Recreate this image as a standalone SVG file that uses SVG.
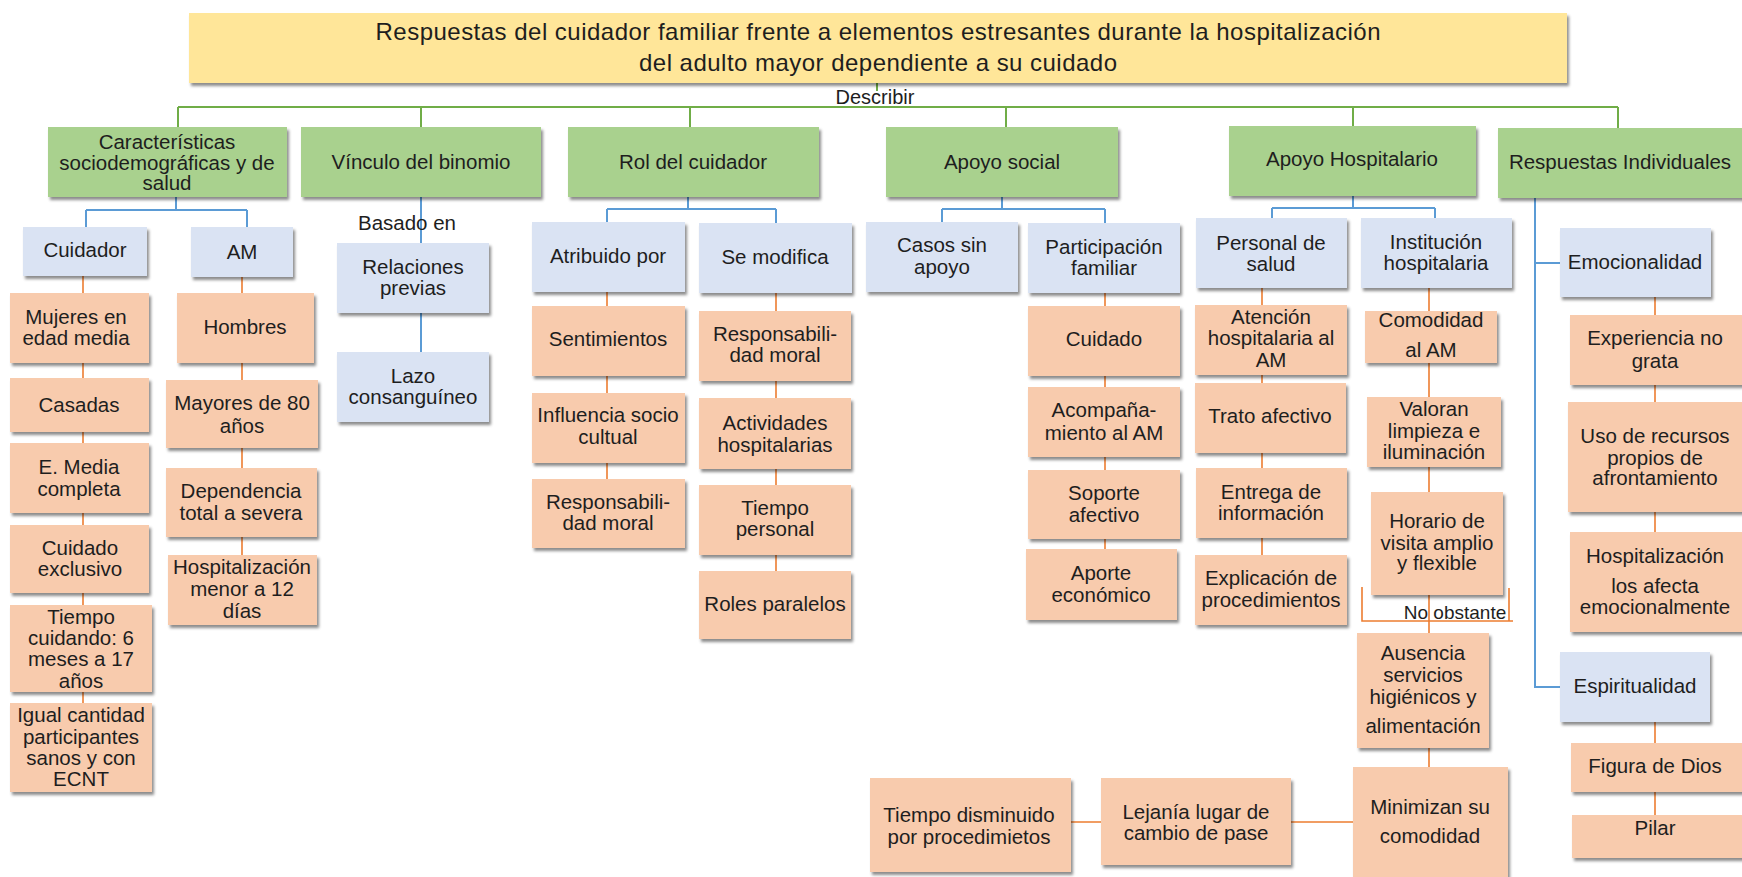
<svg xmlns="http://www.w3.org/2000/svg" width="1742" height="877" viewBox="0 0 1742 877">
<defs>
<filter id="sh" x="-10%" y="-10%" width="130%" height="140%">
<feDropShadow dx="2" dy="3" stdDeviation="1.6" flood-color="#000" flood-opacity="0.45"/>
</filter>
<style>
rect{filter:url(#sh)}
.y{fill:#FFE699}.g{fill:#A9D18E}.b{fill:#DAE3F3}.o{fill:#F8CBAD}
text{font-family:"Liberation Sans",Arial,sans-serif;font-size:20.5px;fill:#1e1e1e;text-anchor:middle}
.t{font-size:24px}
.cg{stroke:#70AD47;stroke-width:2;fill:none}
.cb{stroke:#5B9BD5;stroke-width:2;fill:none}
.co{stroke:#ED7D31;stroke-width:1.6;fill:none}
</style>
</defs>
<rect width="1742" height="877" fill="#fff" style="filter:none"/>
<g id="connectors">
<path class="cg" d="M877 83V91M178 107H1618M178 107V127M421 107V127M690 107V127M1006 107V127M1353 107V126M1618 107V128"/>
<path class="cb" d="M176 197V210M86 210H247M86 210V227M247 210V227M421 197V243M421 313V352M688 197V209M607 209H776M607 209V222M776 209V223M1002 197V209M942 209H1105M942 209V222M1105 209V223M1353 196V208M1272 208H1435M1272 208V218M1435 208V218M1535 198V687H1560M1535 263H1560"/>
<path class="co" d="M83 276V703M242 277V555M607 292V479M776 293V571M1105 293V549M1262 288V555M1429 288V767M1655 297V532M1655 722V815M1071 822H1353M1362 587V621H1513M1509 588V621"/>
<text x="875" y="104" style="font-size:20px">Describir</text>
<text x="407" y="230">Basado en</text>
<text x="1455" y="619" style="font-size:19px">No obstante</text>
</g>
<g id="title"><rect class="y" x="189" y="13" width="1378" height="70"/>
<text class="t"><tspan x="878" y="40" textLength="1005" lengthAdjust="spacing">Respuestas del cuidador familiar frente a elementos estresantes durante la hospitalización</tspan><tspan x="878" y="71" textLength="478" lengthAdjust="spacing">del adulto mayor dependiente a su cuidado</tspan></text></g>

<g id="caract"><rect class="g" x="48" y="127" width="239" height="70"/><text><tspan x="167" y="149">Características</tspan><tspan x="167" y="170">sociodemográficas y de</tspan><tspan x="167" y="190">salud</tspan></text></g>
<g id="vinculo"><rect class="g" x="301" y="127" width="240" height="70"/><text x="421" y="169">Vínculo del binomio</text></g>
<g id="rol"><rect class="g" x="568" y="127" width="251" height="70"/><text x="693" y="169">Rol del cuidador</text></g>
<g id="apoyosocial"><rect class="g" x="886" y="127" width="232" height="70"/><text x="1002" y="169">Apoyo social</text></g>
<g id="apoyohosp"><rect class="g" x="1229" y="126" width="247" height="70"/><text x="1352" y="166">Apoyo Hospitalario</text></g>
<g id="respind"><rect class="g" x="1498" y="128" width="250" height="70"/><text x="1620" y="169">Respuestas Individuales</text></g>

<g id="cuidador"><rect class="b" x="23" y="227" width="124" height="49"/><text x="85" y="257">Cuidador</text></g>
<g id="am"><rect class="b" x="191" y="227" width="102" height="50"/><text x="242" y="259">AM</text></g>
<g id="relaciones"><rect class="b" x="337" y="243" width="152" height="70"/><text><tspan x="413" y="274">Relaciones</tspan><tspan x="413" y="295">previas</tspan></text></g>
<g id="lazo"><rect class="b" x="337" y="352" width="152" height="70"/><text><tspan x="413" y="383">Lazo</tspan><tspan x="413" y="404">consanguíneo</tspan></text></g>
<g id="atribuido"><rect class="b" x="532" y="222" width="153" height="70"/><text x="608" y="263">Atribuido por</text></g>
<g id="semodifica"><rect class="b" x="699" y="223" width="153" height="70"/><text x="775" y="264">Se modifica</text></g>
<g id="casos"><rect class="b" x="866" y="222" width="152" height="70"/><text><tspan x="942" y="252">Casos sin</tspan><tspan x="942" y="274">apoyo</tspan></text></g>
<g id="participacion"><rect class="b" x="1028" y="223" width="152" height="70"/><text><tspan x="1104" y="254">Participación</tspan><tspan x="1104" y="275">familiar</tspan></text></g>
<g id="personal"><rect class="b" x="1196" y="218" width="151" height="70"/><text><tspan x="1271" y="250">Personal de</tspan><tspan x="1271" y="271">salud</tspan></text></g>
<g id="institucion"><rect class="b" x="1361" y="218" width="151" height="70"/><text><tspan x="1436" y="249">Institución</tspan><tspan x="1436" y="270">hospitalaria</tspan></text></g>
<g id="emocionalidad"><rect class="b" x="1560" y="228" width="151" height="69"/><text x="1635" y="269">Emocionalidad</text></g>
<g id="espiritualidad"><rect class="b" x="1560" y="652" width="150" height="70"/><text x="1635" y="693">Espiritualidad</text></g>

<g id="mujeres"><rect class="o" x="10" y="293" width="139" height="70"/><text><tspan x="76" y="324">Mujeres en</tspan><tspan x="76" y="345">edad media</tspan></text></g>
<g id="casadas"><rect class="o" x="10" y="378" width="139" height="54"/><text x="79" y="412">Casadas</text></g>
<g id="emedia"><rect class="o" x="10" y="443" width="139" height="70"/><text><tspan x="79" y="474">E. Media</tspan><tspan x="79" y="496">completa</tspan></text></g>
<g id="cuidadoexcl"><rect class="o" x="10" y="525" width="139" height="68"/><text><tspan x="80" y="555">Cuidado</tspan><tspan x="80" y="576">exclusivo</tspan></text></g>
<g id="tiempocuid"><rect class="o" x="10" y="605" width="142" height="87"/><text><tspan x="81" y="624">Tiempo</tspan><tspan x="81" y="645">cuidando: 6</tspan><tspan x="81" y="666">meses a 17</tspan><tspan x="81" y="688">años</tspan></text></g>
<g id="igual"><rect class="o" x="10" y="703" width="142" height="89"/><text><tspan x="81" y="722">Igual cantidad</tspan><tspan x="81" y="744">participantes</tspan><tspan x="81" y="765">sanos y con</tspan><tspan x="81" y="786">ECNT</tspan></text></g>

<g id="hombres"><rect class="o" x="177" y="293" width="137" height="70"/><text x="245" y="334">Hombres</text></g>
<g id="mayores"><rect class="o" x="166" y="380" width="152" height="68"/><text><tspan x="242" y="410">Mayores de 80</tspan><tspan x="242" y="433">años</tspan></text></g>
<g id="dependencia"><rect class="o" x="166" y="468" width="151" height="69"/><text><tspan x="241" y="498">Dependencia</tspan><tspan x="241" y="520">total a severa</tspan></text></g>
<g id="hospmenor"><rect class="o" x="168" y="555" width="149" height="70"/><text><tspan x="242" y="574">Hospitalización</tspan><tspan x="242" y="596">menor a 12</tspan><tspan x="242" y="618">días</tspan></text></g>

<g id="sentimientos"><rect class="o" x="532" y="306" width="153" height="70"/><text x="608" y="346">Sentimientos</text></g>
<g id="influencia"><rect class="o" x="532" y="393" width="153" height="70"/><text><tspan x="608" y="422">Influencia socio</tspan><tspan x="608" y="444">cultual</tspan></text></g>
<g id="resp1"><rect class="o" x="532" y="479" width="153" height="69"/><text><tspan x="608" y="509">Responsabili-</tspan><tspan x="608" y="530">dad moral</tspan></text></g>
<g id="resp2"><rect class="o" x="699" y="311" width="152" height="70"/><text><tspan x="775" y="341">Responsabili-</tspan><tspan x="775" y="362">dad moral</tspan></text></g>
<g id="actividades"><rect class="o" x="699" y="398" width="152" height="71"/><text><tspan x="775" y="430">Actividades</tspan><tspan x="775" y="452">hospitalarias</tspan></text></g>
<g id="tiempopers"><rect class="o" x="699" y="485" width="152" height="70"/><text><tspan x="775" y="515">Tiempo</tspan><tspan x="775" y="536">personal</tspan></text></g>
<g id="roles"><rect class="o" x="699" y="571" width="152" height="68"/><text x="775" y="611">Roles paralelos</text></g>

<g id="cuidado"><rect class="o" x="1028" y="306" width="152" height="70"/><text x="1104" y="346">Cuidado</text></g>
<g id="acompanamiento"><rect class="o" x="1028" y="387" width="152" height="70"/><text><tspan x="1104" y="417">Acompaña-</tspan><tspan x="1104" y="440">miento al AM</tspan></text></g>
<g id="soporte"><rect class="o" x="1028" y="470" width="152" height="69"/><text><tspan x="1104" y="500">Soporte</tspan><tspan x="1104" y="522">afectivo</tspan></text></g>
<g id="aporte"><rect class="o" x="1026" y="549" width="151" height="71"/><text><tspan x="1101" y="580">Aporte</tspan><tspan x="1101" y="602">económico</tspan></text></g>

<g id="atencion"><rect class="o" x="1195" y="305" width="152" height="70"/><text><tspan x="1271" y="324">Atención</tspan><tspan x="1271" y="345">hospitalaria al</tspan><tspan x="1271" y="367">AM</tspan></text></g>
<g id="trato"><rect class="o" x="1195" y="383" width="151" height="70"/><text x="1270" y="423">Trato afectivo</text></g>
<g id="entrega"><rect class="o" x="1196" y="468" width="151" height="70"/><text><tspan x="1271" y="499">Entrega de</tspan><tspan x="1271" y="520">información</tspan></text></g>
<g id="explicacion"><rect class="o" x="1195" y="555" width="152" height="70"/><text><tspan x="1271" y="585">Explicación de</tspan><tspan x="1271" y="607">procedimientos</tspan></text></g>

<g id="comodidad"><rect class="o" x="1365" y="311" width="132" height="52"/><text><tspan x="1431" y="327">Comodidad</tspan><tspan x="1431" y="357">al AM</tspan></text></g>
<g id="valoran"><rect class="o" x="1367" y="397" width="134" height="70"/><text><tspan x="1434" y="416">Valoran</tspan><tspan x="1434" y="438">limpieza e</tspan><tspan x="1434" y="459">iluminación</tspan></text></g>
<g id="horario"><rect class="o" x="1371" y="492" width="132" height="103"/><text><tspan x="1437" y="528">Horario de</tspan><tspan x="1437" y="550">visita amplio</tspan><tspan x="1437" y="570">y flexible</tspan></text></g>
<g id="ausencia"><rect class="o" x="1357" y="633" width="132" height="115"/><text><tspan x="1423" y="660">Ausencia</tspan><tspan x="1423" y="682">servicios</tspan><tspan x="1423" y="704">higiénicos y</tspan><tspan x="1423" y="733">alimentación</tspan></text></g>
<g id="minimizan"><rect class="o" x="1353" y="767" width="155" height="112"/><text><tspan x="1430" y="814">Minimizan su</tspan><tspan x="1430" y="843">comodidad</tspan></text></g>
<g id="lejania"><rect class="o" x="1101" y="778" width="190" height="87"/><text><tspan x="1196" y="819">Lejanía lugar de</tspan><tspan x="1196" y="840">cambio de pase</tspan></text></g>
<g id="tiempodism"><rect class="o" x="870" y="778" width="201" height="94"/><text><tspan x="969" y="822">Tiempo disminuido</tspan><tspan x="969" y="844">por procedimietos</tspan></text></g>

<g id="experiencia"><rect class="o" x="1570" y="315" width="175" height="70"/><text><tspan x="1655" y="345">Experiencia no</tspan><tspan x="1655" y="368">grata</tspan></text></g>
<g id="uso"><rect class="o" x="1568" y="402" width="177" height="110"/><text><tspan x="1655" y="443">Uso de recursos</tspan><tspan x="1655" y="465">propios de</tspan><tspan x="1655" y="485">afrontamiento</tspan></text></g>
<g id="hospafecta"><rect class="o" x="1570" y="532" width="175" height="100"/><text><tspan x="1655" y="563">Hospitalización</tspan><tspan x="1655" y="593">los afecta</tspan><tspan x="1655" y="614">emocionalmente</tspan></text></g>
<g id="figura"><rect class="o" x="1571" y="743" width="175" height="49"/><text x="1655" y="773">Figura de Dios</text></g>
<g id="pilar"><rect class="o" x="1572" y="815" width="175" height="43"/><text x="1655" y="835">Pilar</text></g>
</svg>
